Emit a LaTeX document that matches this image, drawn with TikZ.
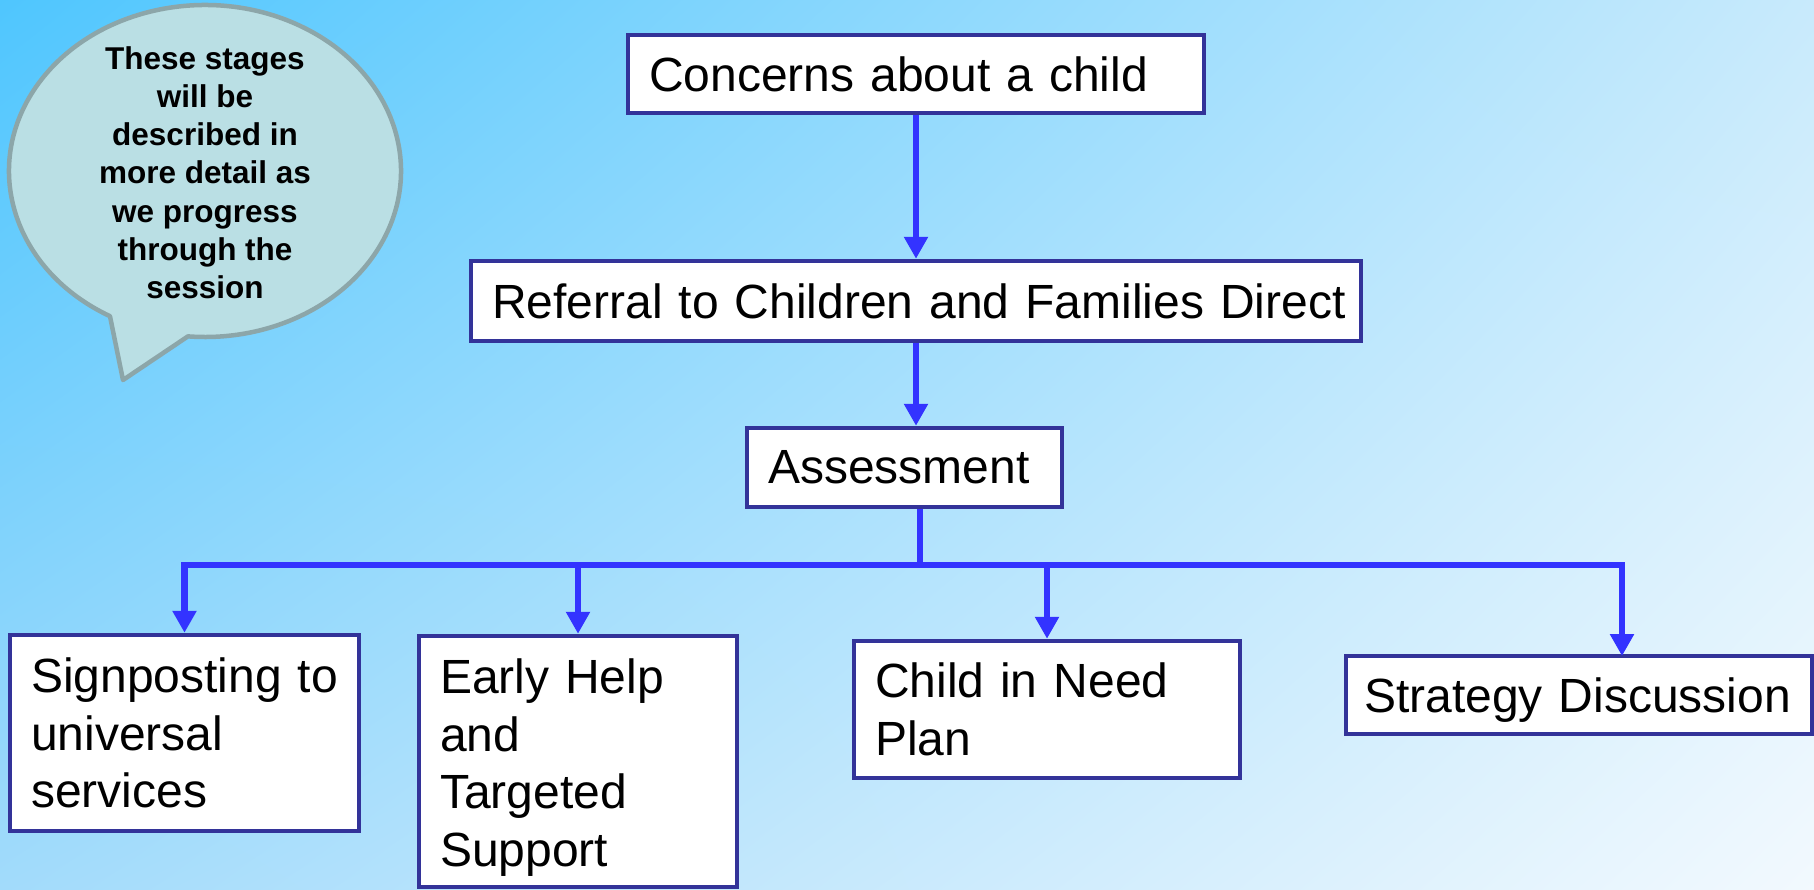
\documentclass[tikz,border=0pt]{standalone}
\usepackage{fontspec}
\setmainfont{Liberation Sans}
\usetikzlibrary{arrows.meta,calc,shadings}
\definecolor{navy}{HTML}{333399}
\definecolor{arrblue}{HTML}{3333FF}
\definecolor{bubfill}{HTML}{BADFE4}
\definecolor{bubline}{HTML}{8CA6A9}
\definecolor{bgTL}{HTML}{4FC6FE}
\definecolor{bgTR}{HTML}{C8EAFC}
\definecolor{bgBL}{HTML}{A2DBFB}
\definecolor{bgBR}{HTML}{F2F9FE}
\newcommand\stagefont{\fontsize{48}{57.6}\selectfont\setlength{\spaceskip}{10.8pt plus 2pt minus 2pt}}
\begin{document}
\begin{tikzpicture}[x=1pt,y=-1pt,
  stagebox/.style={draw=navy, line width=4.5pt, fill=white,
    font=\stagefont, align=left,
    inner xsep=21pt, inner ysep=0pt, anchor=center},
  flow/.style={draw=arrblue, line width=6.5pt},
  flowarr/.style={flow, -{Triangle[width=23pt,length=22pt]}},
  notetext/.style={font=\fontsize{31.5}{38.3}\selectfont\bfseries, align=center, inner sep=0pt, anchor=north}]
\useasboundingbox (0,0) rectangle (1814,889);
\shade[upper left=bgTL, upper right=bgTR, lower left=bgBL, lower right=bgBR] (0,0) rectangle (1814,889);

% speech bubble
\draw[fill=bubfill, draw=bubline, line width=4.5pt, line join=round]
  (123,380) -- ($(205,171)+(119:196 and 166)$)
  arc[start angle=119, end angle=455, x radius=196, y radius=166] -- cycle;
\node[notetext] (note) at (205,46) {These stages\\will be\\described in\\more detail as\\we progress\\through the\\session};

% boxes
\node[stagebox, text width=534, minimum height=78] (c1) at (916,74) {\mbox{Concerns about a child}};
\node[stagebox, text width=848, minimum height=80] (c2) at (916,301) {\mbox{Referral to Children and Families Direct}};
\node[stagebox, text width=273, minimum height=79] (c3) at (904.5,467.5) {\mbox{Assessment}};
\node[stagebox, text width=307, minimum height=196] (b1) at (184.5,733) {\mbox{Signposting to}\\\mbox{universal}\\\mbox{services}};
\node[stagebox, text width=276, minimum height=251] (b2) at (578,761.5) {\rule{0pt}{47pt}\mbox{Early Help}\\\mbox{and}\\\mbox{Targeted}\\\mbox{Support}};
\node[stagebox, text width=344, minimum height=137] (b3) at (1047,709.5) {\mbox{Child in Need}\\\mbox{Plan}};
\node[stagebox, text width=430, inner xsep=18pt, minimum height=78, text depth=0pt] (b4) at (1579,695) {\mbox{Strategy Discussion}};

% connectors
\coordinate (jn) at (920,565);
\coordinate (b4in) at (1622,656);
\draw[flowarr] (c1) -- (c2);
\draw[flowarr] (c2.south) -- (c3.north -| c2.south);
\draw[flow] (c3.south -| jn) -- (jn);
\draw[flow, line cap=rect] (jn -| b1.north) -- (jn -| b4in);
\draw[flowarr] (jn -| b1.north) -- (b1.north);
\draw[flowarr] (jn -| b2.north) -- (b2.north);
\draw[flowarr] (jn -| b3.north) -- (b3.north);
\draw[flowarr] (jn -| b4in) -- (b4in);
\end{tikzpicture}
\end{document}
